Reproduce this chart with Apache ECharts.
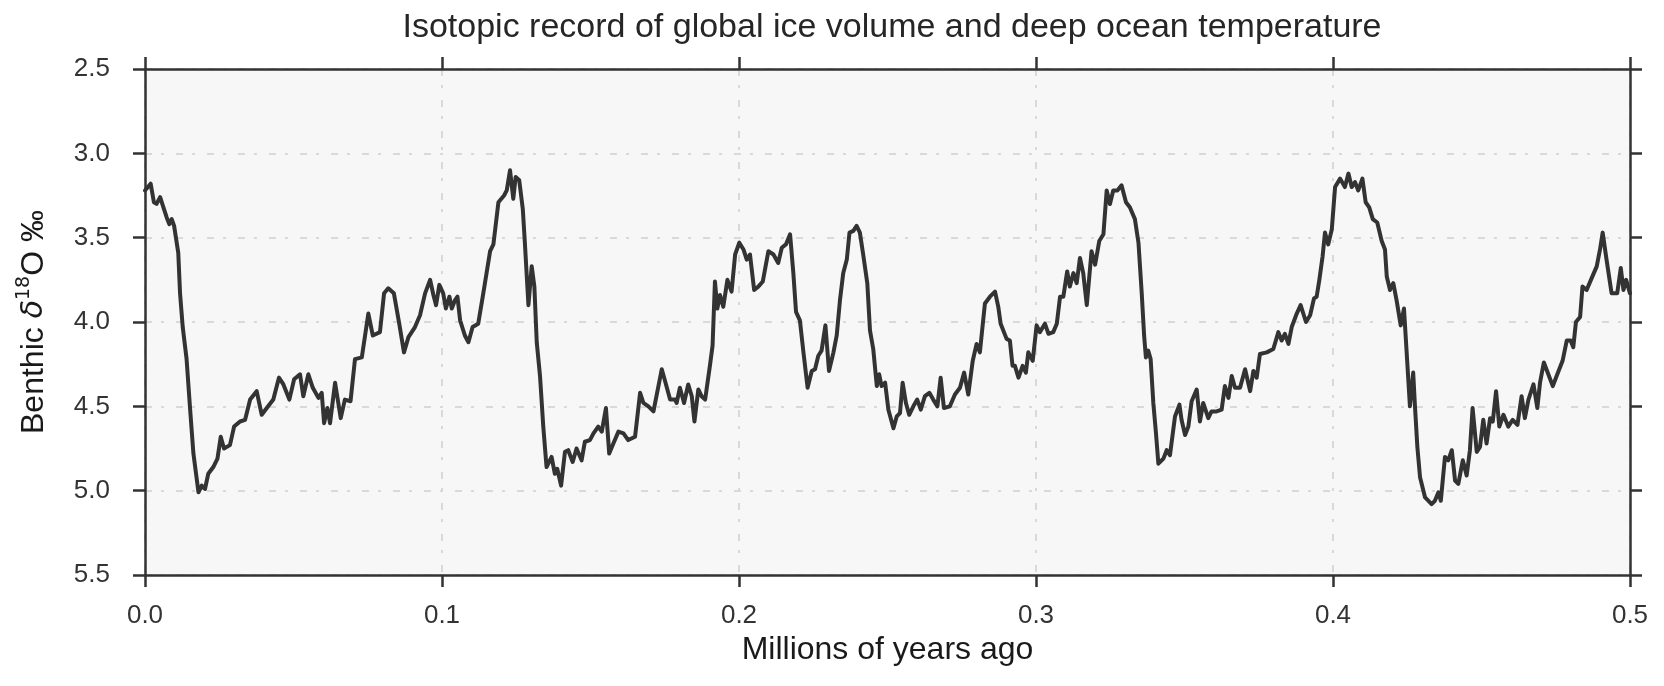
<!DOCTYPE html>
<html>
<head>
<meta charset="utf-8">
<script src="https://cdn.jsdelivr.net/npm/echarts@6/dist/echarts.min.js"></script>
<style>
html,body{margin:0;padding:0;background:#fff;}
#chart{width:1664px;height:686px;}
</style>
</head>
<body>
<div id="chart"></div>
<script>
// Age in thousands of years before present (kyr)
const ageKyr = [
0,1.9,3.0,3.9,5.1,6.2,7.3,8.2,9.0,9.8,11.2,11.8,12.7,14.0,15.2,16.3,18.0,19.1,20.2,21.3,
23.0,24.4,25.5,26.6,28.6,30.0,32.0,33.7,35.4,37.6,39.3,41.0,43.2,45.1,46.6,48.6,50.2,52.2,53.3,55.0,
56.5,58.4,59.5,60.3,61.4,62.3,64.0,65.9,67.3,69.2,70.7,73.0,75.2,76.7,79.1,80.5,81.9,83.8,85.6,87.2,
88.7,90.9,92.6,94.3,96.0,97.1,98.0,99.1,100.4,101.3,102.5,103.3,104.4,105.2,106.1,107.7,108.9,110.3,112.2,113.9,
116.2,117.3,119.0,120.9,121.8,122.9,124.0,124.8,126.0,127.2,127.9,129.1,130.2,131.1,131.9,133.0,134.1,135.2,136.9,138.0,
138.8,140.1,141.4,142.5,144.0,145.3,147.0,148.1,149.8,151.0,152.6,153.8,155.2,156.3,157.7,159.4,161.1,162.7,165.0,166.7,
167.8,169.5,171.2,174.0,175.1,176.8,178.5,179.0,180.1,181.5,182.9,184.1,185.0,186.3,187.4,188.6,190.2,191.1,191.9,192.7,
193.6,194.7,196.1,197.5,198.7,200.1,201.5,202.6,203.7,205.1,206.5,208.0,209.9,211.6,213.2,214.4,215.8,217.2,218.3,219.2,
220.5,221.7,223.1,224.5,225.6,226.7,227.8,229.1,230.3,231.8,232.9,234.0,235.1,236.3,237.2,238.5,239.6,240.7,241.9,243.2,
244.1,245.2,246.4,247.2,248.0,249.2,250.3,252.0,253.1,254.2,255.1,256.2,257.3,258.7,260.0,261.2,262.6,264.1,265.4,266.8,
267.9,269.0,271.0,272.7,274.4,275.8,277.2,278.7,280.0,281.1,282.8,284.5,286.2,287.3,288.1,290.1,291.2,292.1,292.9,294.1,
295.5,296.6,297.4,298.9,300.2,301.3,303.0,304.2,305.8,307.0,308.1,309.2,310.5,311.4,312.6,313.7,314.8,315.9,317.1,318.7,
319.9,321.3,322.7,323.8,324.9,326.0,327.4,328.8,330.3,331.6,333.3,334.5,335.6,336.4,337.0,337.8,338.6,339.5,340.4,341.2,
342.9,344.0,345.1,346.8,348.3,349.0,350.2,351.3,352.4,354.1,355.2,356.3,358.0,359.1,360.8,362.5,363.6,364.8,365.9,367.0,
368.7,370.4,372.1,373.2,374.3,375.4,377.7,379.9,381.6,382.7,383.8,385.0,386.1,387.8,389.1,390.9,392.3,393.6,394.5,395.4,
396.5,397.3,398.4,399.6,400.7,402.4,404.0,405.2,406.3,407.4,408.5,409.9,411.0,412.2,413.4,414.9,416.4,417.5,418.1,419.2,
420.3,421.4,422.8,423.9,424.8,425.9,427.0,427.6,428.4,429.3,431.0,433.2,434.3,435.5,436.3,437.7,438.8,440.0,441.1,442.2,
443.7,445.0,446.1,447.0,448.4,449.5,450.6,451.7,452.9,453.8,454.9,456.0,457.4,459.0,460.5,462.1,463.5,464.6,465.8,467.5,
468.8,469.7,471.0,472.5,474.0,475.3,477.3,478.7,480.0,480.9,481.8,483.2,484.0,485.4,487.1,488.8,489.9,490.8,492.1,493.8,
495.7,496.9,497.8,498.7,500.0
];
// Benthic d18O (per mil)
const d18O = [
3.22,3.18,3.29,3.30,3.26,3.32,3.38,3.42,3.39,3.43,3.59,3.83,4.03,4.22,4.52,4.78,5.01,4.97,4.99,4.90,
4.86,4.81,4.68,4.75,4.73,4.62,4.59,4.58,4.46,4.41,4.55,4.51,4.46,4.33,4.37,4.46,4.34,4.31,4.44,4.31,
4.39,4.45,4.42,4.60,4.51,4.60,4.36,4.57,4.46,4.47,4.22,4.21,3.95,4.08,4.06,3.83,3.80,3.83,4.01,4.18,
4.09,4.03,3.96,3.83,3.75,3.84,3.90,3.78,3.83,3.92,3.85,3.92,3.87,3.85,3.99,4.08,4.12,4.03,4.01,3.83,
3.58,3.54,3.29,3.25,3.22,3.10,3.27,3.14,3.16,3.33,3.53,3.90,3.67,3.79,4.12,4.32,4.62,4.86,4.80,4.90,
4.87,4.97,4.77,4.76,4.83,4.75,4.82,4.71,4.70,4.66,4.62,4.65,4.51,4.78,4.72,4.65,4.66,4.70,4.68,4.42,
4.48,4.50,4.53,4.28,4.35,4.46,4.46,4.48,4.39,4.48,4.37,4.44,4.59,4.40,4.44,4.46,4.26,4.14,3.76,3.92,
3.84,3.91,3.75,3.82,3.60,3.53,3.57,3.63,3.60,3.81,3.79,3.76,3.58,3.60,3.65,3.56,3.54,3.48,3.71,3.94,
3.99,4.18,4.39,4.29,4.28,4.20,4.17,4.02,4.29,4.18,4.08,3.87,3.71,3.63,3.47,3.46,3.43,3.47,3.61,3.77,
4.05,4.16,4.38,4.31,4.38,4.36,4.52,4.63,4.56,4.54,4.36,4.48,4.55,4.50,4.46,4.52,4.44,4.42,4.46,4.50,
4.33,4.51,4.50,4.43,4.39,4.30,4.43,4.23,4.13,4.18,3.89,3.85,3.82,3.91,4.01,4.10,4.11,4.26,4.26,4.33,
4.26,4.30,4.18,4.23,4.02,4.06,4.01,4.07,4.06,4.01,3.85,3.85,3.70,3.79,3.71,3.77,3.62,3.71,3.90,3.58,
3.66,3.52,3.48,3.22,3.30,3.22,3.22,3.19,3.29,3.32,3.39,3.53,3.83,4.08,4.21,4.17,4.22,4.48,4.66,4.84,
4.81,4.76,4.79,4.56,4.49,4.58,4.67,4.62,4.47,4.40,4.59,4.48,4.57,4.53,4.53,4.52,4.38,4.45,4.32,4.39,
4.39,4.28,4.41,4.29,4.33,4.19,4.18,4.16,4.06,4.11,4.07,4.13,4.03,3.95,3.90,4.00,3.96,3.86,3.85,3.75,
3.61,3.47,3.54,3.45,3.20,3.15,3.20,3.12,3.20,3.17,3.22,3.15,3.29,3.32,3.39,3.41,3.52,3.57,3.73,3.81,
3.77,3.87,4.02,3.92,4.18,4.50,4.30,4.50,4.74,4.92,5.04,5.08,5.06,5.01,5.06,4.80,4.82,4.76,4.94,4.96,
4.82,4.91,4.76,4.51,4.77,4.74,4.58,4.72,4.57,4.59,4.41,4.62,4.55,4.62,4.58,4.61,4.44,4.57,4.46,4.37,
4.51,4.36,4.24,4.31,4.38,4.32,4.23,4.11,4.11,4.15,4.00,3.97,3.79,3.81,3.74,3.67,3.57,3.47,3.63,3.83,
3.83,3.68,3.81,3.75,3.83
];
const xTicks = [0.0, 0.1, 0.2, 0.3, 0.4, 0.5];
const yTicks = [2.5, 3.0, 3.5, 4.0, 4.5, 5.0, 5.5];

const seriesData = ageKyr.map((a, i) => [a / 1000, d18O[i]]);

const chart = echarts.init(document.getElementById('chart'), null, {renderer: 'canvas'});
const FONT = '"Liberation Sans", Arial, Helvetica, sans-serif';
const gridLine = {show: true, lineStyle: {color: '#d9d9d9', width: 2, type: [7, 9, 3, 12]}};
const spine = {show: true, onZero: false, lineStyle: {color: '#333333', width: 2.5}};
const tick = {show: true, inside: false, length: 12, lineStyle: {color: '#333333', width: 2.5}};

chart.setOption({
  animation: false,
  backgroundColor: '#ffffff',
  title: {
    text: 'Isotopic record of global ice volume and deep ocean temperature',
    left: 887, top: 6, textAlign: 'center',
    textStyle: {fontFamily: FONT, fontSize: 34, fontWeight: 'normal', color: '#262626'}
  },
  grid: {left: 145, right: 34, top: 69, bottom: 111, show: true,
         backgroundColor: '#f7f7f7', borderWidth: 0},
  xAxis: [{
    type: 'value', min: xTicks[0], max: xTicks[xTicks.length - 1], interval: 0.1,
    position: 'bottom',
    name: 'Millions of years ago', nameLocation: 'middle', nameGap: 58,
    nameTextStyle: {fontFamily: FONT, fontSize: 32, color: '#1a1a1a'},
    axisLine: spine, axisTick: tick,
    axisLabel: {margin: 28, fontFamily: FONT, fontSize: 26, color: '#333333',
                formatter: v => v.toFixed(1)},
    splitLine: gridLine
  }, {
    type: 'value', min: xTicks[0], max: xTicks[xTicks.length - 1], interval: 0.1,
    position: 'top',
    axisLine: spine, axisTick: tick, axisLabel: {show: false}, splitLine: {show: false}
  }],
  yAxis: [{
    type: 'value', min: yTicks[0], max: yTicks[yTicks.length - 1], interval: 0.5,
    inverse: true, position: 'left',
    name: '{n|Benthic }{d|δ}{s|18}{n|O ‰}', nameLocation: 'middle', nameGap: 92, nameRotate: 90,
    nameTextStyle: {
      fontFamily: FONT, fontSize: 32, color: '#1a1a1a',
      rich: {
        n: {fontFamily: FONT, fontSize: 32, color: '#1a1a1a', lineHeight: 38},
        d: {fontFamily: '"DejaVu Sans"', fontStyle: 'italic', fontSize: 30, color: '#1a1a1a', lineHeight: 38},
        s: {fontFamily: '"DejaVu Sans"', fontSize: 19, color: '#1a1a1a', lineHeight: 22, verticalAlign: 'top'}
      }
    },
    axisLine: spine, axisTick: tick,
    axisLabel: {margin: 35, fontFamily: FONT, fontSize: 26, color: '#333333',
                formatter: v => v.toFixed(1)},
    splitLine: gridLine
  }, {
    type: 'value', min: yTicks[0], max: yTicks[yTicks.length - 1], interval: 0.5,
    inverse: true, position: 'right',
    axisLine: spine, axisTick: tick, axisLabel: {show: false}, splitLine: {show: false}
  }],
  series: [{
    type: 'line',
    data: seriesData,
    showSymbol: false,
    symbol: 'none',
    smooth: false,
    lineStyle: {color: '#333333', width: 4, join: 'round', cap: 'round'},
    z: 3
  }]
});
</script>
</body>
</html>
